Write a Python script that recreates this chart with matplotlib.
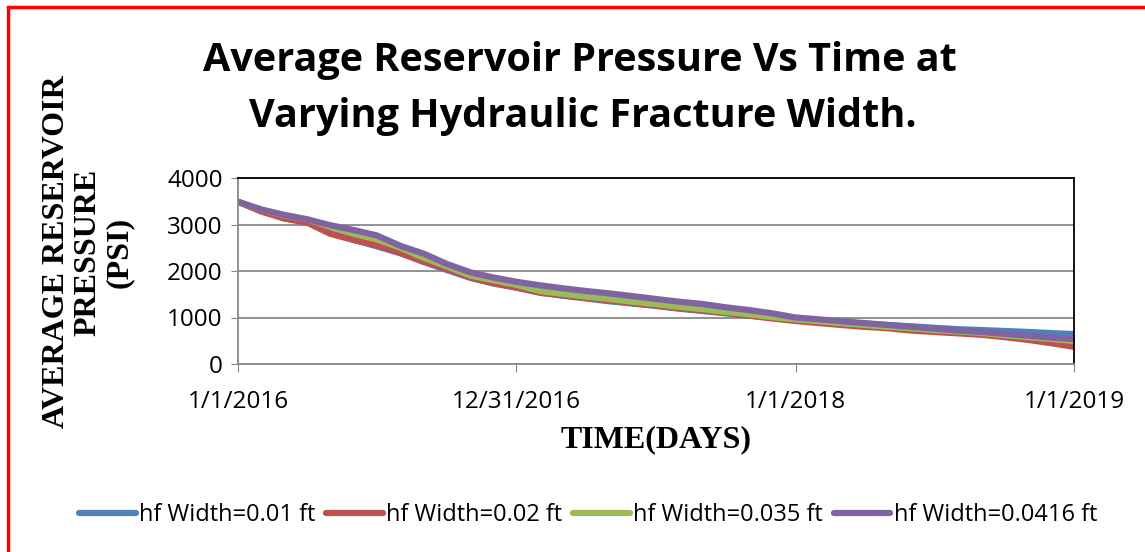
import numpy as np
import pandas as pd
import matplotlib
matplotlib.use("Agg")
import matplotlib.pyplot as plt
from matplotlib.patches import Rectangle

# monthly samples, Jan 2016 .. Jan 2019
dates = pd.date_range("2016-01-01", "2019-01-01", freq="MS")

p_001 = [3490, 3280, 3140, 3040, 2810, 2670, 2530, 2380, 2190, 2020, 1850, 1730,
         1640, 1530, 1470, 1410, 1350, 1300, 1250, 1190, 1140, 1090, 1040, 990,
         960, 930, 900, 870, 840, 810, 780, 750, 730, 710, 690, 665, 642]
p_002 = [3490, 3280, 3130, 3040, 2800, 2665, 2555, 2390, 2200, 2050, 1860, 1740,
         1640, 1530, 1480, 1420, 1370, 1310, 1260, 1200, 1150, 1100, 1040, 980,
         925, 880, 840, 800, 770, 720, 690, 660, 630, 580, 520, 450, 370]
p_0035 = [3490, 3320, 3200, 3110, 2950, 2800, 2680, 2500, 2280, 2100, 1900, 1800,
          1700, 1565, 1510, 1450, 1400, 1340, 1290, 1230, 1180, 1120, 1070, 1010,
          960, 920, 880, 840, 800, 770, 730, 700, 670, 620, 580, 540, 498]
p_00416 = [3490, 3320, 3210, 3110, 2985, 2880, 2765, 2540, 2370, 2150, 1970, 1860,
           1765, 1690, 1630, 1570, 1520, 1460, 1400, 1340, 1290, 1220, 1160, 1090,
           1000, 960, 920, 880, 840, 800, 760, 720, 690, 650, 610, 570, 534]

series = [p_001, p_002, p_0035, p_00416]
labels = ["hf Width=0.01 ft", "hf Width=0.02 ft", "hf Width=0.035 ft", "hf Width=0.0416 ft"]
colors = ["#4F81BD", "#C0504D", "#9BBB59", "#8064A2"]

tick_dates = pd.to_datetime(["2016-01-01", "2016-12-31", "2018-01-01", "2019-01-01"])
tick_labels = ["1/1/2016", "12/31/2016", "1/1/2018", "1/1/2019"]

sans = ["Open Sans", "DejaVu Sans"]
serif = ["Liberation Serif", "DejaVu Serif"]

W, H = 1145, 552
fig = plt.figure(figsize=(W / 100, H / 100), dpi=100)
ax = fig.add_axes([238 / W, 1 - 364 / H, (1074 - 238) / W, (364 - 178) / H])

lines = []
for y, lab, c in zip(series, labels, colors):
    ln, = ax.plot(dates, y, color=c, lw=4.5, label=lab, solid_capstyle="round")
    lines.append(ln)

ax.set_xlim(pd.Timestamp("2016-01-01"), pd.Timestamp("2019-01-01"))
ax.set_ylim(0, 4000)
ax.set_yticks([0, 1000, 2000, 3000, 4000])
ax.set_xticks(tick_dates)
ax.set_xticklabels(tick_labels)

grid_c = "#888888"
ax.grid(axis="y", color=grid_c, lw=1.3)
ax.set_axisbelow(True)
for s in ["left", "bottom"]:
    ax.spines[s].set_color(grid_c)
    ax.spines[s].set_linewidth(1.3)
for s in ["top", "right"]:
    ax.spines[s].set_color("black")
    ax.spines[s].set_linewidth(1.3)
ax.tick_params(axis="y", length=5, color=grid_c, pad=6)
ax.tick_params(axis="x", length=6, color=grid_c, pad=13)
for t in ax.get_xticklabels() + ax.get_yticklabels():
    t.set_family(sans)
    t.set_fontsize(17.5)

fig.text(580 / W, 1 - 60 / H, "Average Reservoir Pressure Vs Time at",
         ha="center", va="center", fontsize=28.5, fontweight="bold", family=sans)
fig.text(583 / W, 1 - 117 / H, "Varying Hydraulic Fracture Width.",
         ha="center", va="center", fontsize=28.5, fontweight="bold", family=sans)

fig.text(656 / W, 1 - 440 / H, "TIME(DAYS)", ha="center", va="center",
         fontsize=23, fontweight="bold", family=serif)
fig.text(88 / W, 1 - 252 / H, "AVERAGE RESERVOIR\nPRESSURE\n(PSI)", ha="center",
         va="center", rotation=90, multialignment="center", linespacing=1.12,
         fontsize=23, fontweight="bold", family=serif)

fig.legend(lines, labels, loc="center", bbox_to_anchor=(588 / W, 1 - 515 / H),
           ncol=4, frameon=False, handlelength=2.4, handletextpad=0.15,
           columnspacing=0.45, prop={"family": sans, "size": 17})

# red frame around the whole chart
fig.patches.append(Rectangle((8 / W, -0.1), 1.2, 1 - 7 / H + 0.1, transform=fig.transFigure,
                             fill=False, edgecolor="red", lw=2.5))

fig.savefig("out.png", dpi=100)
